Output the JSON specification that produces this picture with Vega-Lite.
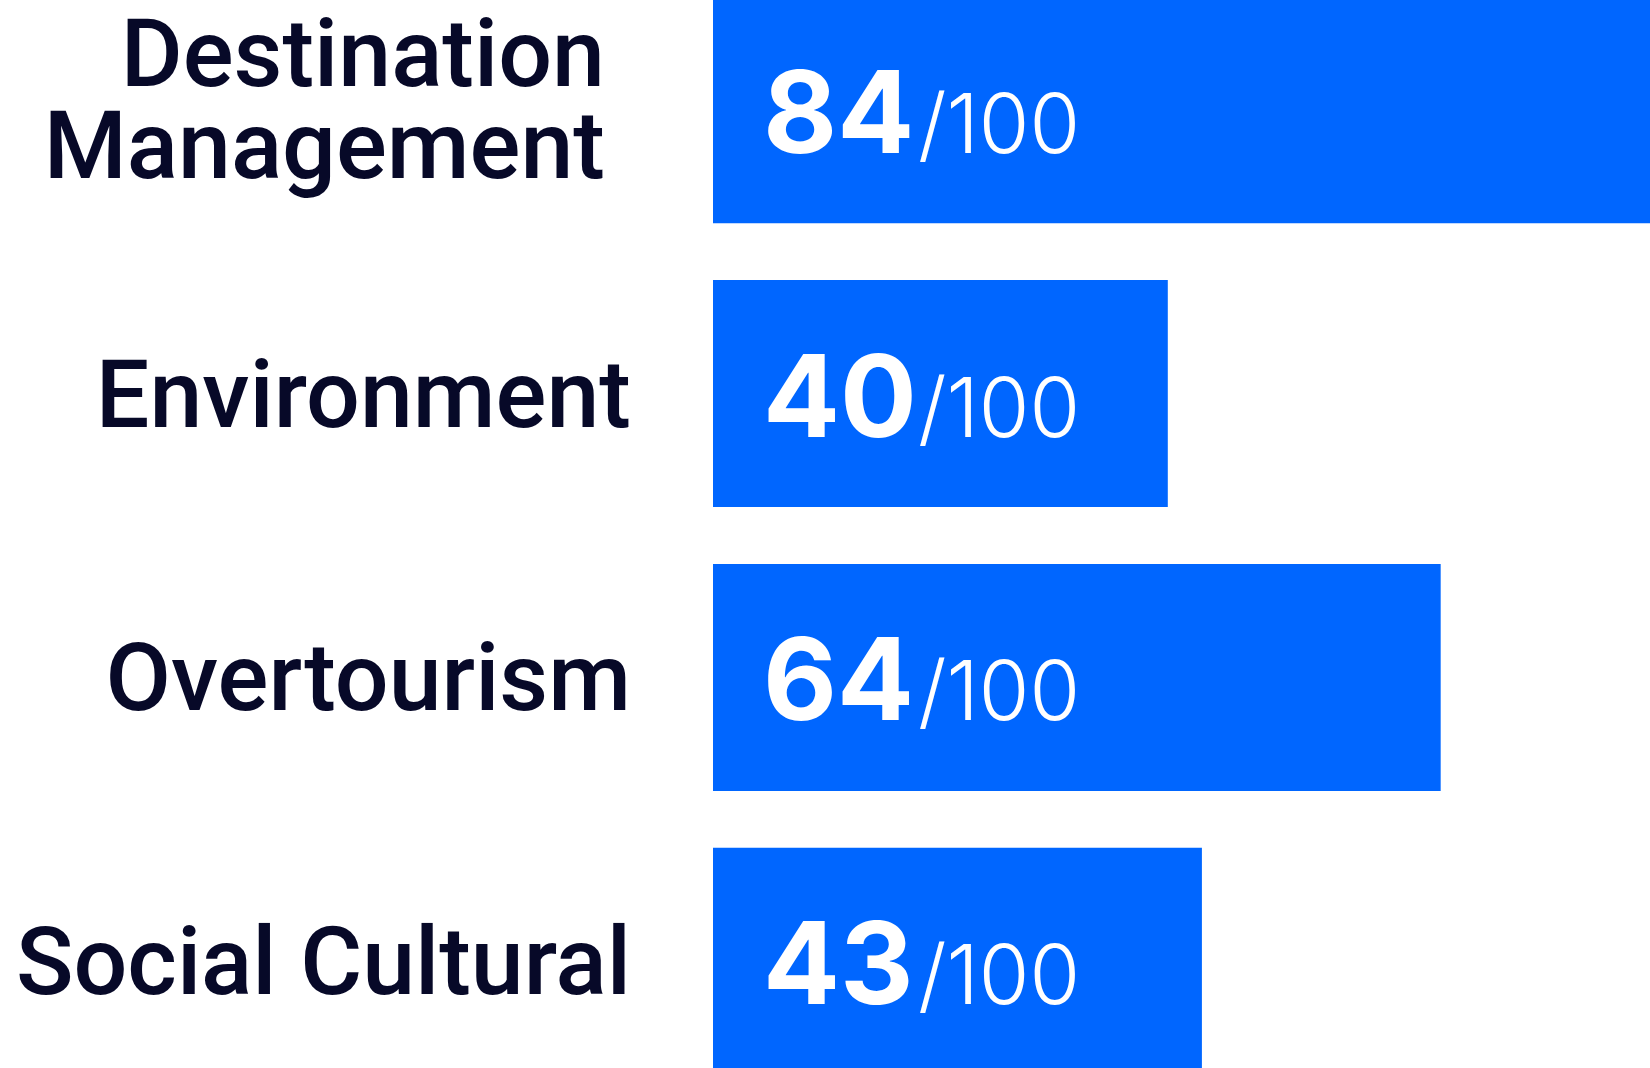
{
  "$schema": "https://vega.github.io/schema/vega-lite/v6.json",
  "width": 1650,
  "height": 1068,
  "padding": 0,
  "autosize": {"type": "none"},
  "background": "white",
  "config": {"view": {"stroke": null}},
  "data": {
    "values": [
      {"category": "Destination Management", "score": 84},
      {"category": "Environment", "score": 40},
      {"category": "Overtourism", "score": 64},
      {"category": "Social Cultural", "score": 43}
    ]
  },
  "encoding": {
    "y": {
      "field": "category",
      "type": "nominal",
      "sort": null,
      "axis": null,
      "scale": {"range": [-4, 1075], "paddingInner": 0.2, "paddingOuter": 0}
    }
  },
  "layer": [
    {
      "mark": {"type": "bar", "color": "#0066FF"},
      "encoding": {
        "x": {
          "field": "score",
          "type": "quantitative",
          "axis": null,
          "scale": {"domain": [0, 100], "range": [713, 1850]}
        }
      }
    },
    {
      "transform": [{"filter": "datum.category != 'Destination Management'"}],
      "mark": {"type": "text", "align": "right", "baseline": "alphabetic", "dx": -82, "dy": 33, "font": "Roboto", "fontWeight": 500, "fontSize": 95, "color": "#070928"},
      "encoding": {
        "x": {"datum": 0, "type": "quantitative"},
        "text": {"field": "category"}
      }
    },
    {
      "transform": [{"filter": "datum.category == 'Destination Management'"}],
      "mark": {"type": "text", "align": "right", "baseline": "alphabetic", "dx": -108, "dy": -23.6, "lineBreak": " ", "lineHeight": 92, "font": "Roboto", "fontWeight": 500, "fontSize": 95, "color": "#070928"},
      "encoding": {
        "x": {"datum": 0, "type": "quantitative"},
        "text": {"field": "category"}
      }
    },
    {
      "mark": {"type": "text", "align": "left", "baseline": "alphabetic", "dx": 50, "dy": 43, "font": "Inter", "fontWeight": 700, "fontSize": 114, "color": "white"},
      "encoding": {
        "x": {"datum": 0, "type": "quantitative"},
        "text": {"field": "score"}
      }
    },
    {
      "mark": {"type": "text", "align": "left", "baseline": "alphabetic", "dx": 205, "dy": 43, "font": "Inter", "fontWeight": 300, "fontSize": 82, "color": "white"},
      "encoding": {
        "x": {"datum": 0, "type": "quantitative"},
        "text": {"value": "/100"}
      }
    }
  ]
}
